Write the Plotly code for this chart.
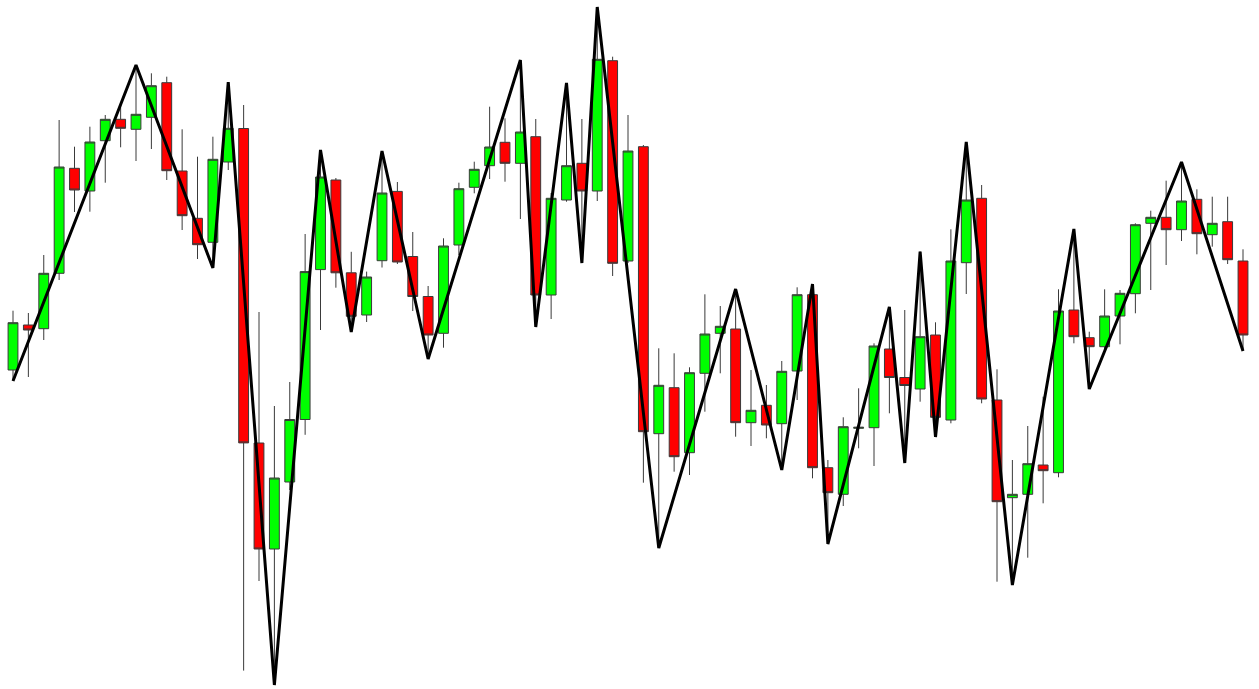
import plotly.graph_objects as go

# candle index (bar number)
bars = list(range(81))

open_ = [330.0, 375.0, 371.3, 426.7, 531.7, 509.0, 559.3, 580.7, 570.7, 582.7,
         617.3, 529.0, 481.7, 457.7, 538.0, 571.5, 257.0, 151.0, 218.0, 280.5,
         430.4, 520.0, 427.2, 385.0, 439.3, 508.6, 443.5, 403.5, 366.7, 455.0,
         512.7, 534.3, 557.7, 536.7, 563.3, 405.0, 500.0, 536.7, 509.0, 639.3,
         439.0, 553.3, 266.3, 312.3, 247.3, 326.7, 366.7, 371.0, 277.3, 294.7,
         276.3, 329.0, 405.3, 232.3, 205.7, 271.7, 272.3, 351.0, 322.5, 311.0,
         365.0, 280.0, 437.3, 501.7, 300.0, 202.3, 205.7, 235.0, 227.3, 390.0,
         362.3, 353.3, 384.0, 406.3, 476.7, 482.7, 470.3, 500.7, 465.3, 478.3,
         439.0]

high = [389.3, 387.0, 445.0, 580.0, 553.3, 573.3, 585.0, 595.0, 635.0, 626.7,
        623.3, 570.7, 543.3, 563.3, 618.0, 595.0, 388.0, 294.0, 318.0, 466.0,
        550.0, 522.0, 448.2, 428.4, 549.0, 518.0, 468.0, 414.0, 461.7, 517.3,
        538.3, 593.3, 581.7, 640.0, 581.0, 507.0, 617.0, 581.0, 693.0, 643.3,
        585.0, 555.0, 351.7, 346.7, 332.7, 405.7, 394.0, 411.0, 330.0, 315.0,
        339.0, 412.7, 416.0, 240.0, 282.7, 311.7, 356.7, 393.0, 390.0, 448.5,
        377.7, 470.7, 558.0, 515.0, 330.7, 240.0, 274.0, 303.3, 410.7, 471.0,
        368.3, 410.7, 410.0, 476.7, 489.3, 519.3, 538.0, 510.7, 503.3, 503.3,
        450.7]

low = [319.0, 323.0, 360.0, 420.0, 488.0, 488.3, 517.3, 552.7, 539.0, 551.0,
       520.0, 470.0, 441.0, 432.0, 530.0, 29.4, 119.0, 15.0, 210.0, 265.2,
       370.0, 412.3, 368.0, 378.0, 432.5, 436.0, 389.0, 341.0, 352.3, 445.0,
       506.7, 521.0, 518.3, 481.0, 373.0, 381.0, 498.3, 437.0, 499.0, 424.0,
       437.0, 217.3, 152.0, 228.3, 225.0, 288.3, 326.7, 263.3, 254.0, 261.7,
       230.0, 300.0, 221.7, 156.0, 194.0, 251.7, 234.0, 286.7, 237.0, 298.3,
       263.0, 276.7, 406.0, 296.7, 118.3, 115.0, 142.3, 196.7, 222.7, 356.7,
       311.0, 350.0, 355.7, 386.7, 410.0, 435.0, 459.0, 445.7, 453.3, 436.0,
       349.0]

close = [377.3, 370.0, 426.7, 533.0, 510.0, 558.0, 580.7, 571.7, 585.7, 614.3,
         529.3, 484.3, 455.3, 540.7, 571.7, 257.1, 151.0, 222.0, 280.5, 428.4,
         523.0, 427.2, 383.7, 423.0, 507.0, 438.0, 403.5, 365.0, 454.0, 511.3,
         530.7, 553.0, 536.7, 568.0, 405.0, 501.7, 534.3, 509.0, 640.7, 436.7,
         549.0, 268.3, 314.7, 243.3, 327.3, 366.0, 373.7, 277.3, 289.7, 275.0,
         328.7, 405.3, 232.3, 207.3, 273.3, 272.7, 354.0, 322.5, 314.5, 363.3,
         282.7, 439.0, 500.0, 301.0, 198.3, 205.7, 236.3, 229.3, 389.0, 363.3,
         353.3, 384.0, 406.7, 475.3, 482.7, 470.3, 499.0, 466.3, 476.7, 440.3,
         365.0]

# zigzag pivots: bar index and price
zig_bars = [0, 8, 13, 14, 17, 20, 22, 24, 27, 33, 34, 36, 37, 38, 42, 47, 50,
            52, 53, 57, 58, 59, 60, 62, 65, 69, 70, 76, 80]
zig_vals = [319.0, 635.0, 432.0, 618.0, 15.0, 550.0, 368.0, 549.0, 341.0,
            640.0, 373.0, 617.0, 437.0, 693.0, 152.0, 411.0, 230.0, 416.0,
            156.0, 393.0, 237.0, 448.5, 263.0, 558.0, 115.0, 471.0, 311.0,
            538.0, 349.0]

fig = go.Figure()
fig.add_trace(go.Candlestick(
    x=bars, open=open_, high=high, low=low, close=close,
    increasing=dict(fillcolor="#00FF00", line=dict(color="#3a3a3a", width=1)),
    decreasing=dict(fillcolor="#FF0000", line=dict(color="#3a3a3a", width=1)),
    whiskerwidth=0,
    hoverinfo="skip",
    showlegend=False,
))
fig.add_trace(go.Scatter(
    x=zig_bars, y=zig_vals, mode="lines",
    line=dict(color="#000000", width=3),
    hoverinfo="skip", showlegend=False,
))

fig.update_layout(
    width=1259, height=689,
    margin=dict(l=0, r=0, t=0, b=0),
    paper_bgcolor="white", plot_bgcolor="white",
    boxgap=0.36, boxgroupgap=0,
    xaxis=dict(range=[-0.8455, 81.04], visible=False, showgrid=False,
               zeroline=False, rangeslider=dict(visible=False)),
    yaxis=dict(range=[11, 700], visible=False, showgrid=False, zeroline=False),
)

fig.write_html("out.html",
               config={"displayModeBar": False},
               post_script="document.body.style.margin='0';document.body.style.overflow='hidden';")
